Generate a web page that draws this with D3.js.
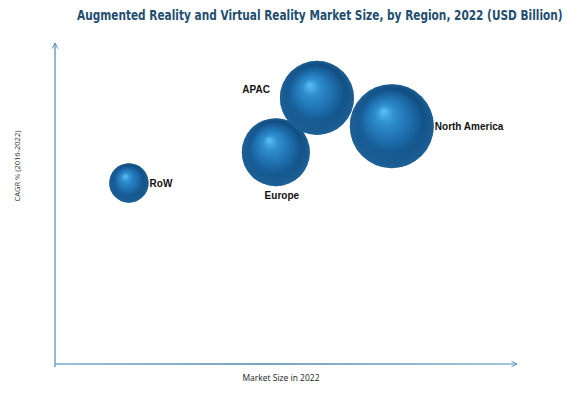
<!DOCTYPE html>
<html>
<head>
<meta charset="utf-8">
<script src="https://cdn.jsdelivr.net/npm/d3@7"></script>
<style>
  body { margin: 0; background: #fff; }
  svg { display: block; }
</style>
</head>
<body>
<svg width="569" height="394"></svg>
<script>
// values (no ticks, so units are relative)
const regions = ["North America", "Europe", "APAC", "RoW"];
const marketSize = [72.9, 47.8, 56.7, 16.0];   // x, also bubble size
const cagr = [74.1, 66.0, 82.9, 56.4];         // y
const labelSide = ["right", "below", "left", "right"];

const svg = d3.select("svg");

const x = d3.scaleLinear().domain([0, 100]).range([55, 517]);
const y = d3.scaleLinear().domain([0, 100]).range([364, 43]);
const r = d3.scaleSqrt().domain([0, 72.9]).range([0, 42]);

const defs = svg.append("defs");

// sphere look
const grad = defs.append("radialGradient")
  .attr("id", "sphere")
  .attr("cx", "50%").attr("cy", "50%").attr("r", "50%")
  .attr("fx", "40%").attr("fy", "32%");
grad.append("stop").attr("offset", "0%").attr("stop-color", "#5cc0f5");
grad.append("stop").attr("offset", "22%").attr("stop-color", "#2f8fd0");
grad.append("stop").attr("offset", "60%").attr("stop-color", "#1b67a5");
grad.append("stop").attr("offset", "88%").attr("stop-color", "#0f4a7b");
grad.append("stop").attr("offset", "100%").attr("stop-color", "#0a3a63");

const rim = defs.append("radialGradient")
  .attr("id", "rim")
  .attr("cx", "50%").attr("cy", "50%").attr("r", "50%")
  .attr("fx", "50%").attr("fy", "20%");
rim.append("stop").attr("offset", "75%").attr("stop-color", "#2d7fc0").attr("stop-opacity", 0);
rim.append("stop").attr("offset", "100%").attr("stop-color", "#2d82c4").attr("stop-opacity", 0.55);

const axisGrad = defs.append("linearGradient")
  .attr("id", "xaxis")
  .attr("gradientUnits", "userSpaceOnUse")
  .attr("x1", 55).attr("y1", 0).attr("x2", 517).attr("y2", 0);
axisGrad.append("stop").attr("offset", "0%").attr("stop-color", "#7aaad0");
axisGrad.append("stop").attr("offset", "45%").attr("stop-color", "#4a84ad");
axisGrad.append("stop").attr("offset", "100%").attr("stop-color", "#86b2d2");

defs.append("marker")
  .attr("id", "arrow")
  .attr("viewBox", "0 0 10 10")
  .attr("refX", 9).attr("refY", 5)
  .attr("markerWidth", 7).attr("markerHeight", 7)
  .attr("markerUnits", "userSpaceOnUse")
  .attr("orient", "auto")
  .append("path")
  .attr("d", "M1,1 L9,5 L1,9")
  .attr("fill", "none")
  .attr("stroke", "#5b8fb8")
  .attr("stroke-width", 1.4);

// title, squeezed to look like a condensed face
const title = svg.append("text")
  .attr("text-anchor", "start")
  .style("font-family", "'DejaVu Sans', sans-serif")
  .style("font-weight", "bold")
  .style("font-size", "14px")
  .attr("fill", "#1f4e6f")
  .text("Augmented Reality and Virtual Reality Market Size, by Region, 2022 (USD Billion)");
const tw = title.node().getComputedTextLength();
const sx = 486 / tw;
title.attr("transform", `translate(77,20) scale(${sx},1)`);

// axes
svg.append("line")
  .attr("x1", 55).attr("y1", 367).attr("x2", 55).attr("y2", 43)
  .attr("stroke", "#5a93bf").attr("stroke-width", 1.3)
  .attr("marker-end", "url(#arrow)");
svg.append("line")
  .attr("x1", 55).attr("y1", 364).attr("x2", 517).attr("y2", 364)
  .attr("stroke", "url(#xaxis)").attr("stroke-width", 1.3)
  .attr("marker-end", "url(#arrow)");

svg.append("text")
  .attr("transform", "translate(20,166) rotate(-90)")
  .attr("text-anchor", "middle")
  .style("font-family", "'Open Sans', sans-serif")
  .style("font-size", "7.5px")
  .attr("fill", "#333")
  .text("CAGR % (2016-2022)");

svg.append("text")
  .attr("x", 281).attr("y", 381)
  .attr("text-anchor", "middle")
  .style("font-family", "'Open Sans', sans-serif")
  .style("font-size", "8.5px")
  .attr("fill", "#222")
  .text("Market Size in 2022");

const data = regions.map((d, i) => ({
  name: d, size: marketSize[i], cagr: cagr[i], side: labelSide[i]
}));

const node = svg.append("g").selectAll("g.bubble")
  .data(data)
  .join("g")
  .classed("bubble", true)
  .attr("transform", d => `translate(${x(d.size)},${y(d.cagr)})`);

node.append("circle")
  .attr("r", d => r(d.size))
  .attr("fill", "url(#sphere)");
node.append("circle")
  .attr("r", d => r(d.size))
  .attr("fill", "url(#rim)");

node.append("text")
  .attr("x", d => d.side === "right" ? r(d.size) + 1 : d.side === "left" ? -r(d.size) - 10 : 6)
  .attr("y", d => d.side === "below" ? r(d.size) + 13 : d.side === "left" ? -5 : 4)
  .attr("text-anchor", d => d.side === "right" ? "start" : d.side === "left" ? "end" : "middle")
  .style("font-family", "'Liberation Sans', Arial, sans-serif")
  .style("font-weight", "bold")
  .style("font-size", "10px")
  .attr("fill", "#111")
  .text(d => d.name);
</script>
</body>
</html>
